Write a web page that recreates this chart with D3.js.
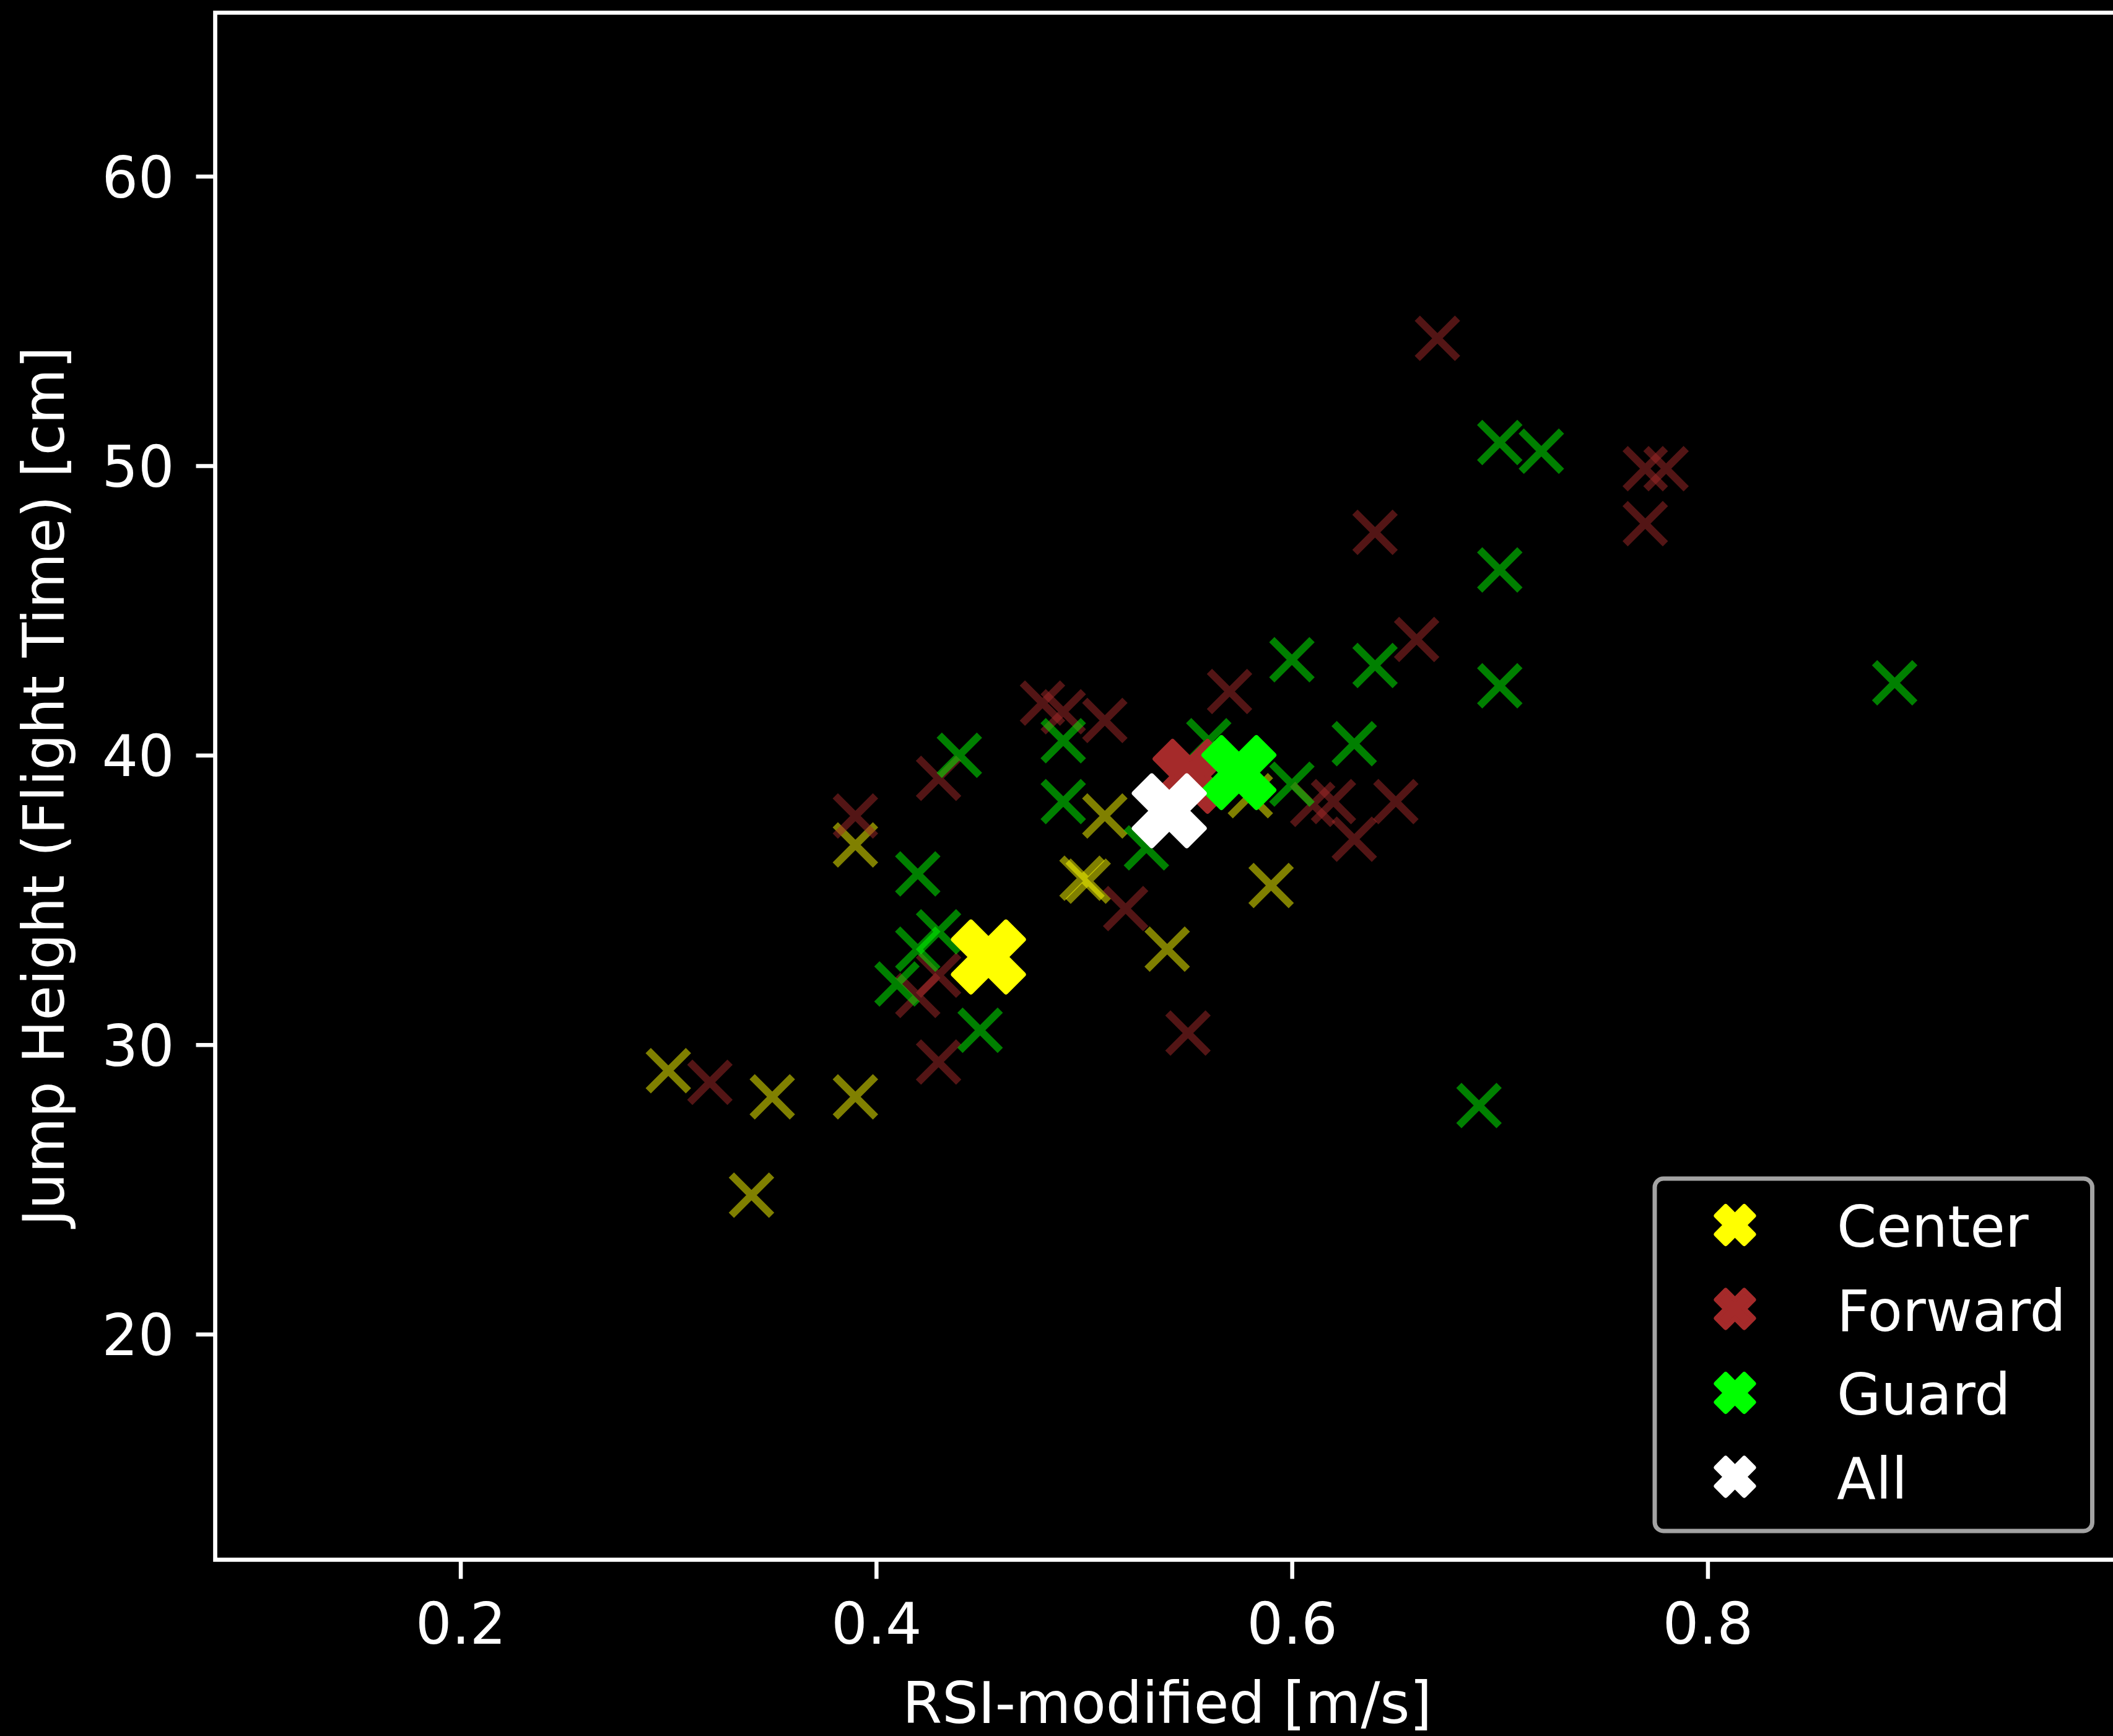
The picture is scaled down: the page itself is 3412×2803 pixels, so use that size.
<!DOCTYPE html>
<html>
<head>
<meta charset="utf-8">
<script src="https://cdn.jsdelivr.net/npm/d3@7"></script>
<style>
  html, body { margin: 0; padding: 0; background: #000; }
  svg { display: block; }
  text { font-family: "DejaVu Sans", sans-serif; fill: #fff; }
</style>
</head>
<body>
<script>
// ---------------- data ----------------
const groups = ["Center", "Forward", "Guard"];
const groupColors = ["#ffff00", "#a52a2a", "#00ff00"];

const centerX  = [0.30, 0.34, 0.35, 0.39, 0.39, 0.499, 0.502, 0.51, 0.54, 0.59, 0.58];
const centerY  = [29.1, 24.8, 28.2, 28.2, 36.9, 35.75, 35.65, 37.9, 33.3, 35.5, 38.6];

const forwardX = [0.32, 0.39, 0.42, 0.43, 0.43, 0.43, 0.48, 0.49, 0.51, 0.52, 0.55, 0.57, 0.61, 0.62, 0.63, 0.65, 0.64, 0.66, 0.67, 0.77, 0.78, 0.77];
const forwardY = [28.7, 37.9, 31.7, 32.4, 29.4, 39.2, 41.8, 41.5, 41.2, 34.7, 30.4, 42.2, 38.3, 38.4, 37.1, 38.4, 47.7, 44.0, 54.4, 49.9, 49.9, 48.0];

const guardX   = [0.41, 0.42, 0.42, 0.43, 0.44, 0.45, 0.49, 0.49, 0.53, 0.56, 0.60, 0.60, 0.63, 0.64, 0.70, 0.70, 0.70, 0.72, 0.69, 0.89];
const guardY   = [32.1, 33.3, 35.9, 33.9, 40.0, 30.5, 40.5, 38.4, 36.8, 40.5, 43.3, 39.0, 40.4, 43.1, 42.4, 46.4, 50.8, 50.5, 27.9, 42.5];

const meanLabels = ["Center", "Forward", "Guard", "All"];
const meanColors = ["#ffff00", "#a52a2a", "#00ff00", "#ffffff"];
const meanX = [0.454, 0.551, 0.5745, 0.541];
const meanY = [33.03, 39.27, 39.40, 38.08];

const xTicks = [0.2, 0.4, 0.6, 0.8];
const yTicks = [20, 30, 40, 50, 60];
const xDomain = [0.082, 0.998];
const yDomain = [12.21, 65.65];

const xLabel = "RSI-modified [m/s]";
const yLabel = "Jump Height (Flight Time) [cm]";

// ---------------- layout ----------------
const W = 3412, H = 2803;
const L = 347.5, R = 3422, T = 20.5, B = 2518.3;
const FS = 92;

const svg = d3.select("body").append("svg")
  .attr("width", W).attr("height", H)
  .style("background", "#000");

svg.append("rect").attr("width", W).attr("height", H).attr("fill", "#000");

const x = d3.scaleLinear().domain(xDomain).range([L, R]);
const y = d3.scaleLinear().domain(yDomain).range([B, T]);

// custom symbol types
const symXLine = { draw(ctx, size) { const r = Math.sqrt(size) / 2;
  ctx.moveTo(-r, -r); ctx.lineTo(r, r); ctx.moveTo(-r, r); ctx.lineTo(r, -r); } };
const symXFilled = { draw(ctx, size) { const s = Math.sqrt(size);
  const pts = [[-0.25,-0.5],[0,-0.25],[0.25,-0.5],[0.5,-0.25],[0.25,0],[0.5,0.25],
               [0.25,0.5],[0,0.25],[-0.25,0.5],[-0.5,0.25],[-0.25,0],[-0.5,-0.25]];
  pts.forEach((p, i) => { if (i === 0) ctx.moveTo(p[0]*s, p[1]*s); else ctx.lineTo(p[0]*s, p[1]*s); });
  ctx.closePath(); } };

svg.append("defs").append("clipPath").attr("id", "plotclip")
  .append("rect").attr("x", L).attr("y", T).attr("width", R - L).attr("height", B - T);

const plot = svg.append("g").attr("clip-path", "url(#plotclip)");

// scatter points
const seriesX = [centerX, forwardX, guardX];
const seriesY = [centerY, forwardY, guardY];
const smallSym = d3.symbol().type(symXLine).size(65 * 65);
groups.forEach((g, gi) => {
  const pts = seriesX[gi].map((v, i) => [v, seriesY[gi][i]]);
  plot.append("g").selectAll("path").data(pts).join("path")
    .attr("d", smallSym)
    .attr("transform", d => `translate(${x(d[0])},${y(d[1])})`)
    .attr("fill", "none")
    .attr("stroke", groupColors[gi])
    .attr("stroke-opacity", 0.5)
    .attr("stroke-width", 12)
    .attr("stroke-linecap", "butt");
});

// mean markers
const bigSym = d3.symbol().type(symXFilled).size(113 * 113);
plot.append("g").selectAll("path").data(meanX.map((v, i) => [v, meanY[i], meanColors[i]])).join("path")
  .attr("d", bigSym)
  .attr("transform", d => `translate(${x(d[0])},${y(d[1])})`)
  .attr("fill", d => d[2])
  .attr("stroke", d => d[2])
  .attr("stroke-width", 8)
  .attr("stroke-linejoin", "round");

// axes
const xAxis = d3.axisBottom(x).tickValues(xTicks).tickFormat(d3.format(".1f"))
  .tickSize(31).tickSizeOuter(0).tickPadding(39);
const yAxis = d3.axisLeft(y).tickValues(yTicks).tickFormat(d3.format("d"))
  .tickSize(31).tickSizeOuter(0).tickPadding(35);

const gx = svg.append("g").attr("transform", `translate(0,${B})`).call(xAxis);
const gy = svg.append("g").attr("transform", `translate(${L},0)`).call(yAxis);
[gx, gy].forEach(g => {
  g.select(".domain").remove();
  g.selectAll(".tick line").attr("stroke", "#fff").attr("stroke-width", 6.5);
  g.selectAll(".tick text").attr("fill", "#fff")
    .style("font-family", "'DejaVu Sans', sans-serif").style("font-size", FS + "px");
});
gy.selectAll(".tick text").attr("dy", "0.3645em");

// spines
svg.append("path")
  .attr("d", `M${L},${B} L${L},${T} L${R},${T} L${R},${B} Z`)
  .attr("fill", "none").attr("stroke", "#fff").attr("stroke-width", 6.7);

// axis labels
svg.append("text").attr("x", (L + R) / 2).attr("y", 2782)
  .attr("text-anchor", "middle").style("font-size", FS + "px").text(xLabel);
svg.append("text").attr("transform", `translate(103,${(T + B) / 2}) rotate(-90)`)
  .attr("text-anchor", "middle").style("font-size", FS + "px").text(yLabel);

// legend
const lg = svg.append("g");
lg.append("rect").attr("x", 2672).attr("y", 1903).attr("width", 706.5).attr("height", 569)
  .attr("rx", 14).attr("fill", "#000").attr("stroke", "#a3a3a3").attr("stroke-width", 7);
const legSym = d3.symbol().type(symXFilled).size(60 * 60);
const rowY0 = 1978, rowStep = 135.5;
meanLabels.forEach((lab, i) => {
  const ry = rowY0 + i * rowStep;
  lg.append("path").attr("d", legSym).attr("transform", `translate(2801.5,${ry})`)
    .attr("fill", meanColors[i]).attr("stroke", meanColors[i]).attr("stroke-width", 8)
    .attr("stroke-linejoin", "round");
  lg.append("text").attr("x", 2966).attr("y", ry + 35).style("font-size", FS + "px").text(lab);
});
</script>
</body>
</html>
